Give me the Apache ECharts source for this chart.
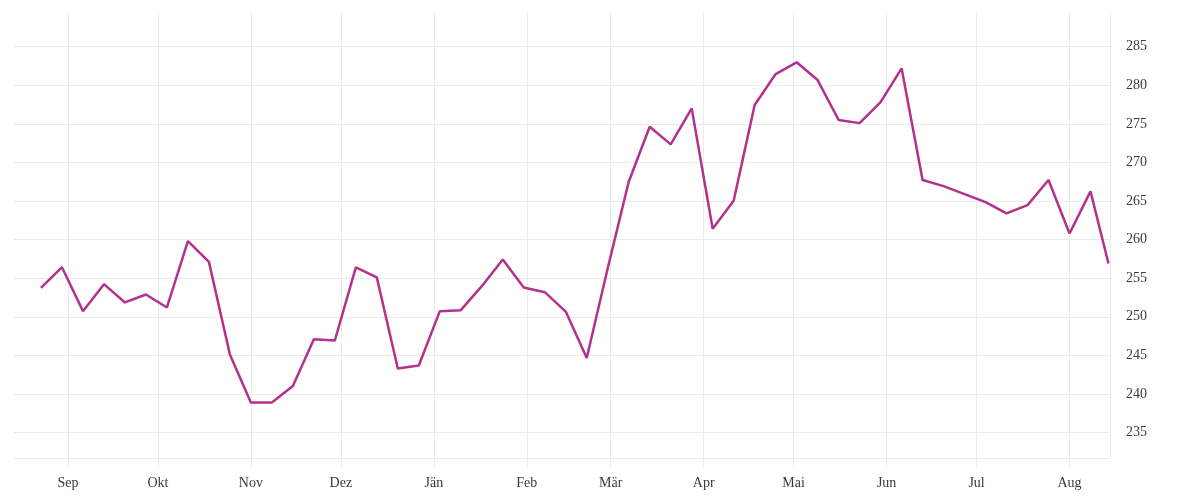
<!DOCTYPE html>
<html>
<head>
<meta charset="utf-8">
<script src="https://cdn.jsdelivr.net/npm/echarts@6/dist/echarts.min.js"></script>
<style>
html,body{margin:0;padding:0;background:#fff;}
#chart{width:1200px;height:500px;}
</style>
</head>
<body>
<div id="chart"></div>
<script>
const dates = [
  '2022-08-23','2022-08-30','2022-09-06','2022-09-13','2022-09-20','2022-09-27',
  '2022-10-04','2022-10-11','2022-10-18','2022-10-25','2022-11-01','2022-11-08',
  '2022-11-15','2022-11-22','2022-11-29','2022-12-06','2022-12-13','2022-12-20',
  '2022-12-27','2023-01-03','2023-01-10','2023-01-17','2023-01-24','2023-01-31',
  '2023-02-07','2023-02-14','2023-02-21','2023-02-28','2023-03-07','2023-03-14',
  '2023-03-21','2023-03-28','2023-04-04','2023-04-11','2023-04-18','2023-04-25',
  '2023-05-02','2023-05-09','2023-05-16','2023-05-23','2023-05-30','2023-06-06',
  '2023-06-13','2023-06-20','2023-06-27','2023-07-04','2023-07-11','2023-07-18',
  '2023-07-25','2023-08-01','2023-08-08','2023-08-14'
];
const values = [
  253.75, 256.43, 250.73, 254.23, 251.86, 252.89,
  251.21, 259.81, 257.12, 245.11, 238.89, 238.89,
  241.04, 247.1, 246.93, 256.4, 255.1, 243.3,
  243.69, 250.73, 250.86, 253.97, 257.43, 253.8,
  253.19, 250.68, 244.67, 256.3, 267.5, 274.63,
  272.34, 277.01, 261.4, 265.03, 277.44, 281.46,
  282.98, 280.68, 275.5, 275.1, 277.83, 282.2,
  267.72, 266.93, 265.9, 264.86, 263.4, 264.47,
  267.72, 260.8, 266.25, 256.91
];
const monthNames = ['Jän','Feb','Mär','Apr','Mai','Jun','Jul','Aug','Sep','Okt','Nov','Dez'];
const xMin = '2022-08-14T00:00:00';
const xMax = '2023-08-14T12:00:00';
const yMin = 231.7, yMax = 289.5;

const gridColor = '#ebebeb';
const textColor = '#3a3a3a';
const fontFamily = '"Liberation Serif", "DejaVu Serif", serif';

const chart = echarts.init(document.getElementById('chart'), null, {renderer: 'canvas'});
chart.setOption({
  animation: false,
  backgroundColor: '#fff',
  grid: {left: 14, right: 90, top: 12, bottom: 42, containLabel: false},
  xAxis: {
    type: 'time',
    min: xMin,
    max: xMax,
    splitNumber: 12,
    minInterval: 28 * 86400000,
    maxInterval: 31 * 86400000,
    axisLine: {show: true, lineStyle: {color: gridColor, width: 1}},
    axisTick: {show: true, length: 10, lineStyle: {color: gridColor, width: 1}},
    splitLine: {show: true, showMinLine: false, showMaxLine: true, lineStyle: {color: gridColor, width: 1}},
    axisLabel: {
      color: textColor, fontFamily: fontFamily, fontSize: 14, margin: 18,
      showMinLabel: false, showMaxLabel: false,
      formatter: function (v) {
        const d = new Date(v);
        if (d.getDate() !== 1) return '';
        return monthNames[d.getMonth()];
      }
    }
  },
  yAxis: {
    type: 'value',
    position: 'right',
    min: yMin,
    max: yMax,
    splitNumber: 11,
    axisLine: {show: false},
    axisTick: {show: false},
    splitLine: {show: true, showMinLine: false, showMaxLine: false, lineStyle: {color: gridColor, width: 1}},
    axisLabel: {
      color: textColor, fontFamily: fontFamily, fontSize: 14, margin: 16,
      padding: [3, 0, 0, 0],
      showMinLabel: false, showMaxLabel: false,
      formatter: function (v) { return (Math.abs(v % 5) < 1e-6) ? String(v) : ''; }
    }
  },
  series: [{
    type: 'line',
    data: dates.map((d, i) => [d, values[i]]),
    showSymbol: false,
    symbol: 'none',
    lineStyle: {color: '#b3318c', width: 2.5},
    itemStyle: {color: '#b3318c'}
  }]
});
</script>
</body>
</html>
